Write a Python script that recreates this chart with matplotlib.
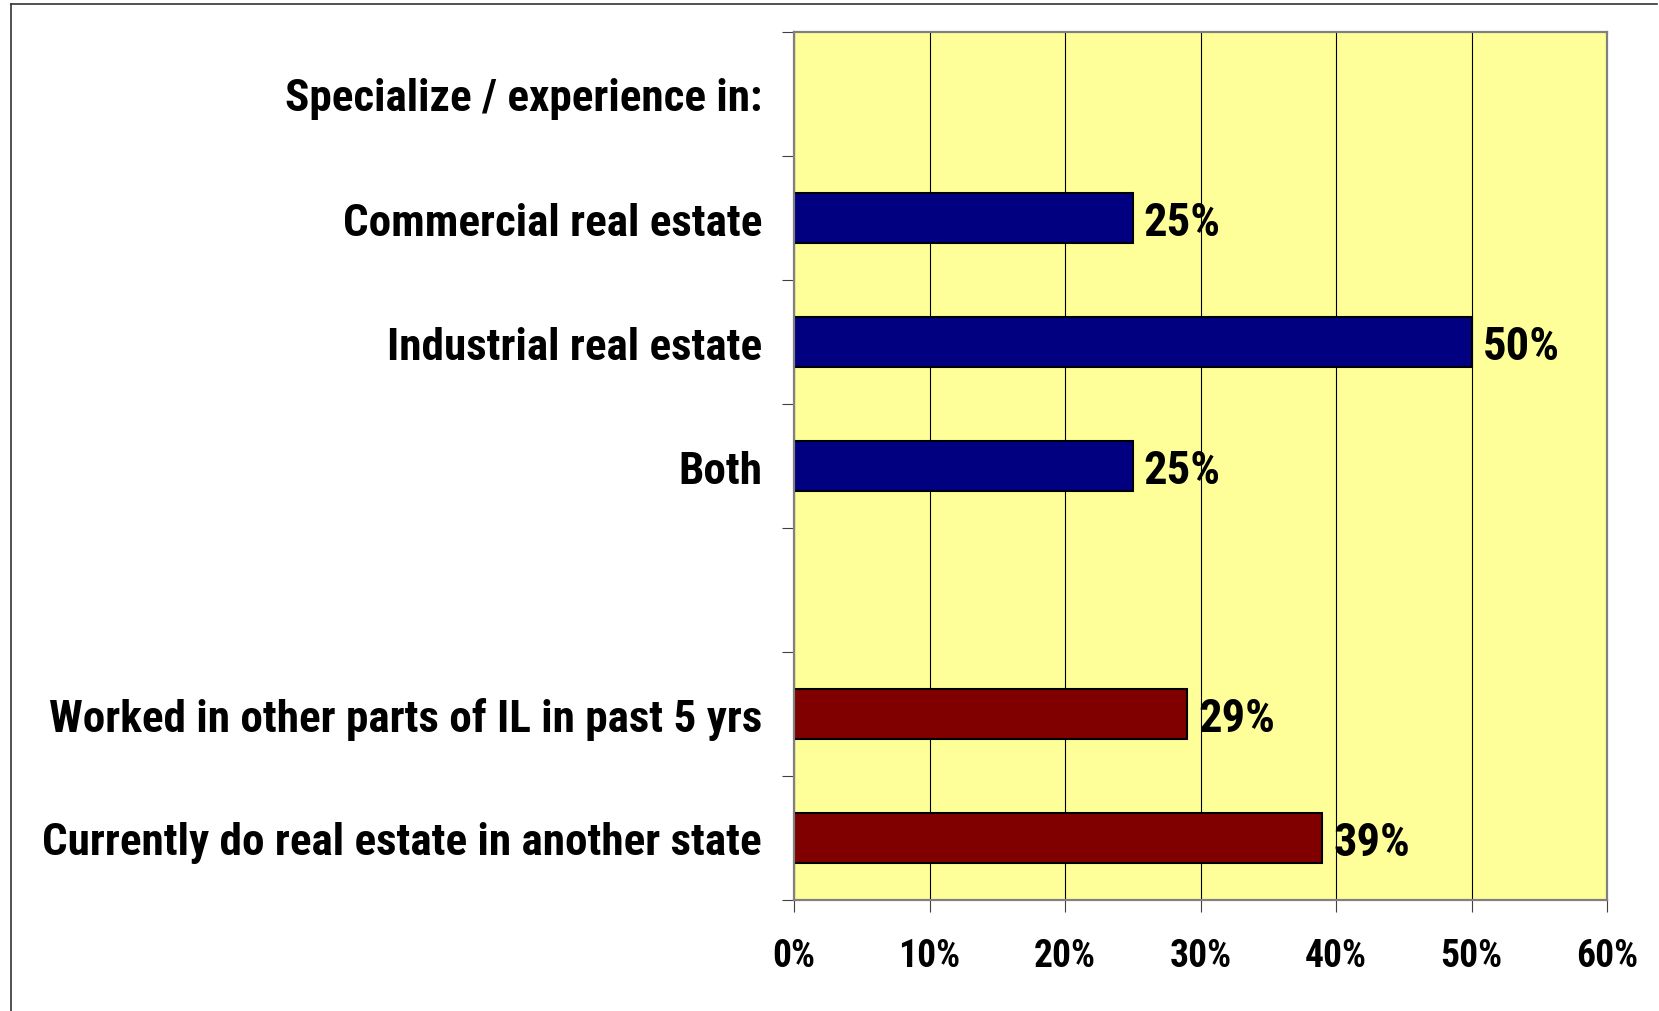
import matplotlib
matplotlib.use("Agg")
import matplotlib.pyplot as plt
from matplotlib import font_manager
from matplotlib.lines import Line2D
from matplotlib.ticker import FixedLocator, PercentFormatter

# Survey results: share of respondents (percent)
categories = [
    "Specialize / experience in:",
    "Commercial real estate",
    "Industrial real estate",
    "Both",
    "",
    "Worked in other parts of IL in past 5 yrs",
    "Currently do real estate in another state",
]
values = [None, 25, 50, 25, None, 29, 39]
groups = [None, "specialty", "specialty", "specialty", None, "region", "region"]
group_colors = {"specialty": "#000080", "region": "#800000"}
x_ticks = [0, 10, 20, 30, 40, 50, 60]

# condensed bold sans, first one that is installed
available = {f.name for f in font_manager.fontManager.ttflist}
family = next((f for f in ["Liberation Sans Narrow", "Roboto Condensed", "Archivo Narrow",
                           "PT Sans Narrow", "IBM Plex Sans Condensed", "Open Sans Condensed"]
               if f in available), "Liberation Sans")

plt.rcParams["font.family"] = [family, "DejaVu Sans"]
plt.rcParams["font.weight"] = "bold"

W, H, DPI = 1659, 1012, 100
fig = plt.figure(figsize=(W / DPI, H / DPI), dpi=DPI)
fig.patch.set_facecolor("white")
renderer = fig.canvas.get_renderer()


def size_for_width(text, width_px, ref_size=30):
    t = fig.text(0, 0, text, fontsize=ref_size, fontweight="bold")
    w = t.get_window_extent(renderer).width
    t.remove()
    return ref_size * width_px / w


label_size = size_for_width("Currently do real estate in another state", 720)
value_size = size_for_width("25%", 77)
tick_size = size_for_width("60%", 62)

ax = fig.add_axes([794 / W, 1 - 901 / H, (1607 - 794) / W, (901 - 33) / H])
ax.set_facecolor("#FFFF99")

ys = list(range(len(categories)))
for y, v, g in zip(ys, values, groups):
    if v is None:
        continue
    ax.barh(y, v, height=0.4, color=group_colors[g], edgecolor="black",
            linewidth=1.5, zorder=3)
    ax.annotate(f"{v}%", xy=(v, y), xytext=(8, 0), textcoords="offset points",
                ha="left", va="center_baseline", fontsize=value_size, fontweight="bold",
                color="black", zorder=4)

ax.set_xlim(0, 60)
ax.set_ylim(len(categories) - 0.5, -0.5)

ax.xaxis.set_major_locator(FixedLocator(x_ticks))
ax.xaxis.set_major_formatter(PercentFormatter(decimals=0))
ax.grid(axis="x", color="black", linewidth=0.8, zorder=1)
ax.tick_params(axis="x", direction="out", length=8.6, width=0.8, color="#404040",
               labelsize=tick_size, pad=18)

ax.set_yticks(ys)
ax.set_yticklabels(categories, fontsize=label_size, fontweight="bold")
ax.yaxis.set_minor_locator(FixedLocator([y - 0.5 for y in ys] + [ys[-1] + 0.5]))
ax.tick_params(axis="y", which="major", length=0, pad=23)
ax.tick_params(axis="y", which="minor", direction="out", length=8.6, width=0.8,
               color="#404040")

for side in ["top", "right", "bottom", "left"]:
    ax.spines[side].set_color("#808080")
    ax.spines[side].set_linewidth(1.6)
    ax.spines[side].set_zorder(5)

# outer chart frame
fig.add_artist(Line2D([10.5 / W, 10.5 / W], [0, 1 - 5 / H], transform=fig.transFigure,
                      color="#333333", linewidth=1.2))
fig.add_artist(Line2D([10.5 / W, 1657 / W], [1 - 5 / H, 1 - 5 / H], transform=fig.transFigure,
                      color="#333333", linewidth=1.2))

fig.savefig("out.png", dpi=DPI)
